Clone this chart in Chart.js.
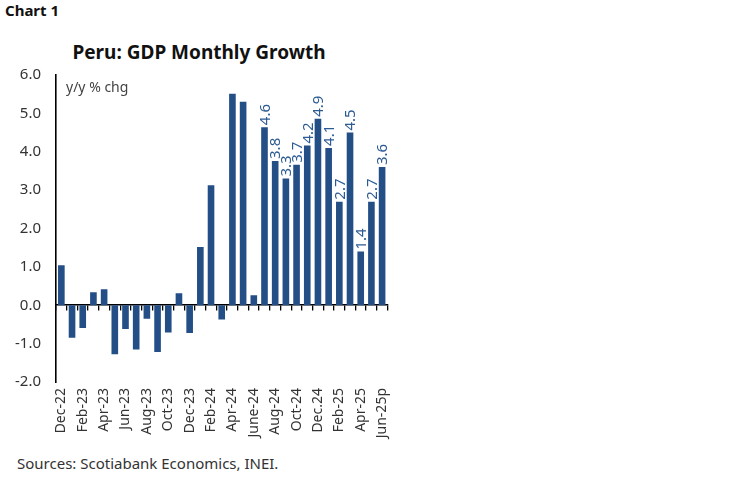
<!DOCTYPE html>
<html>
<head>
<meta charset="utf-8">
<script src="https://cdn.jsdelivr.net/npm/chart.js@4/dist/chart.umd.min.js"></script>
<style>
  html, body { margin: 0; padding: 0; background: #fff; }
  body { width: 748px; height: 483px; position: relative; overflow: hidden; font-family: "Noto Sans", sans-serif; }
  #hdr { position: absolute; left: 5px; top: 0px; font-size: 15px; font-weight: 700; color: #111; }
  #ttl { position: absolute; left: 0; width: 398px; top: 39px; text-align: center; font-size: 19px; font-weight: 700; color: #111; }
  #unit { position: absolute; left: 66px; top: 77px; font-size: 14px; color: #444; }
  #src { position: absolute; left: 17px; top: 453px; font-size: 15px; color: #333; }
  #wrap { position: absolute; left: 0; top: 0; width: 405px; height: 450px; }
</style>
</head>
<body>
<div id="hdr">Chart 1</div>
<div id="ttl">Peru: GDP Monthly Growth</div>
<div id="wrap"><canvas id="c"></canvas></div>
<div id="unit">y/y % chg</div>
<div id="src">Sources: Scotiabank Economics, INEI.</div>
<script>
const months = ['Dec-22','Jan-23','Feb-23','Mar-23','Apr-23','May-23','Jun-23','Jul-23','Aug-23','Sep-23','Oct-23','Nov-23',
  'Dec-23','Jan-24','Feb-24','Mar-24','Apr-24','May-24','June-24','Jul-24','Aug-24','Sep-24','Oct-24','Nov-24',
  'Dec.24','Jan-25','Feb-25','Mar-25','Apr-25','May-25','Jun-25p'];
const gdpGrowth = [1.04,-0.85,-0.59,0.34,0.42,-1.28,-0.62,-1.15,-0.35,-1.22,-0.71,0.31,
  -0.72,1.52,3.13,-0.37,5.51,5.30,0.26,4.64,3.76,3.30,3.66,4.16,
  4.86,4.10,2.70,4.50,1.40,2.70,3.60];
const yTicks = [-2,-1,0,1,2,3,4,5,6];
const labelFrom = 'Jul-24';

const barColor = '#234f86';
const labelColor = '#2c5b93';
const fontFam = '"Noto Sans", sans-serif';

const valueLabels = {
  id: 'valueLabels',
  afterDatasetsDraw(chart) {
    const ctx = chart.ctx;
    const meta = chart.getDatasetMeta(0);
    const start = months.indexOf(labelFrom);
    ctx.save();
    ctx.fillStyle = labelColor;
    ctx.font = '15px ' + fontFam;
    ctx.textAlign = 'left';
    ctx.textBaseline = 'middle';
    meta.data.forEach((bar, i) => {
      if (i < start) return;
      ctx.save();
      ctx.translate(bar.x + 1, bar.y - 2);
      ctx.rotate(-Math.PI / 2);
      ctx.fillText(gdpGrowth[i].toFixed(1), 0, 0);
      ctx.restore();
    });
    ctx.restore();
  }
};

new Chart(document.getElementById('c'), {
  type: 'bar',
  data: {
    labels: months,
    datasets: [{
      data: gdpGrowth,
      backgroundColor: barColor,
      borderWidth: 0,
      barPercentage: 0.62,
      categoryPercentage: 1.0,
      xAxisID: 'x'
    }]
  },
  options: {
    responsive: true,
    maintainAspectRatio: false,
    animation: false,
    layout: { padding: { top: 75, right: 6, bottom: 0, left: 0 } },
    plugins: { legend: { display: false }, tooltip: { enabled: false }, title: { display: false } },
    scales: {
      x: {
        type: 'category',
        position: { y: 0 },
        offset: true,
        grid: { display: true, drawOnChartArea: false, drawTicks: true, tickLength: 5, color: '#000', lineWidth: 1.3, offset: true },
        border: { display: true, color: '#000', width: 1.6 },
        ticks: { display: false }
      },
      x2: {
        type: 'category',
        position: 'bottom',
        offset: true,
        grid: { display: false, drawTicks: false },
        border: { display: false },
        ticks: {
          autoSkip: false, maxRotation: 90, minRotation: 90, padding: 6,
          color: '#333', font: { size: 14, family: fontFam },
          callback: function(v, i) { return i % 2 === 0 ? months[i] : ''; }
        },
        afterFit(scale) { scale.height = 68; }
      },
      y: {
        min: -2, max: 6,
        afterBuildTicks(scale) { scale.ticks = yTicks.map(v => ({ value: v })); },
        grid: { display: false, drawTicks: false },
        border: { display: true, color: '#000', width: 1.6 },
        ticks: {
          padding: 15, color: '#333',
          font: { size: 15, family: fontFam },
          callback: v => v.toFixed(1)
        },
        afterFit(scale) { scale.width = 56; }
      }
    }
  },
  plugins: [valueLabels]
});
</script>
</body>
</html>
